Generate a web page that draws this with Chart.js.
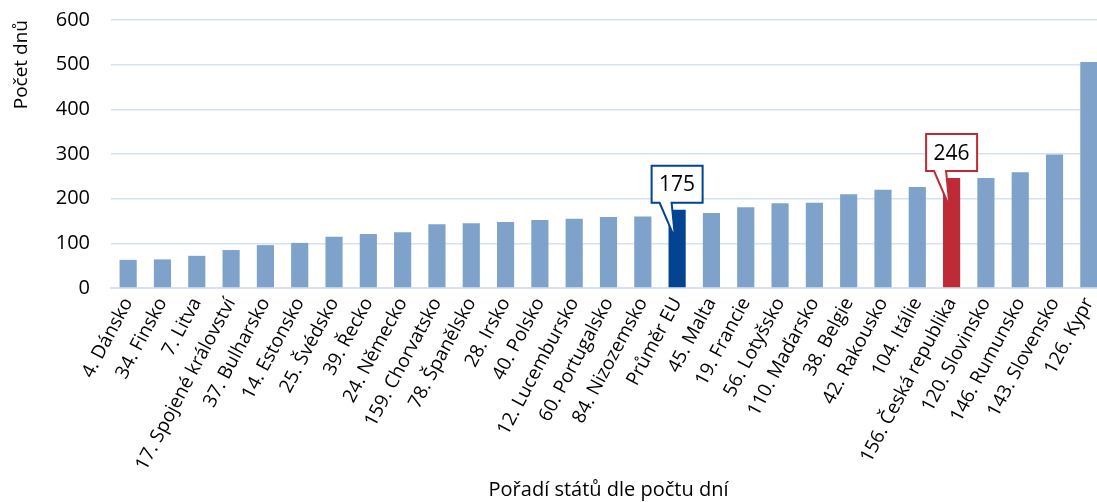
<!DOCTYPE html>
<html>
<head>
<meta charset="utf-8">
<script src="https://cdn.jsdelivr.net/npm/chart.js@4.4.0/dist/chart.umd.min.js"></script>
<style>
  html, body { margin: 0; padding: 0; background: #fff; overflow: hidden; }
  #wrap { width: 1106px; height: 502px; position: relative; }
</style>
</head>
<body>
<div id="wrap"><canvas id="myChart"></canvas></div>
<script>
var categories = ['4. Dánsko', '34. Finsko', '7. Litva', '17. Spojené království', '37. Bulharsko',
    '14. Estonsko', '25. Švédsko', '39. Řecko', '24. Německo', '159. Chorvatsko', '78. Španělsko',
    '28. Irsko', '40. Polsko', '12. Lucembursko', '60. Portugalsko', '84. Nizozemsko', 'Průměr EU',
    '45. Malta', '19. Francie', '56. Lotyšsko', '110. Maďarsko', '38. Belgie', '42. Rakousko',
    '104. Itálie', '156. Česká republika', '120. Slovinsko', '146. Rumunsko', '143. Slovensko', '126. Kypr'];
var days = [63, 64, 72, 85, 96, 101, 115, 121, 125, 143, 145, 148, 152, 155, 159, 160, 175,
    168, 181, 190, 191, 210, 220, 226, 246, 246, 259, 299, 506];
var yTicks = [0, 100, 200, 300, 400, 500, 600];
var highlights = ['Průměr EU', '156. Česká republika'];

var FONT = '"Open Sans", sans-serif';
var barColors = categories.map(function (c) {
    if (c === 'Průměr EU') return '#024392';
    if (c === '156. Česká republika') return '#be2a35';
    return '#7fa2cb';
});

// callouts over the two highlighted bars
var calloutPlugin = {
    id: 'callouts',
    afterDatasetsDraw: function (chart) {
        var ctx = chart.ctx;
        var meta = chart.getDatasetMeta(0);
        var y = chart.scales.y;
        highlights.forEach(function (name) {
            var i = categories.indexOf(name);
            var bar = meta.data[i];
            var cx = bar.x;
            var top = y.getPixelForValue(days[i]);
            var color = barColors[i];
            var w = 51, h = 37;
            var left = cx - w / 2, bottom = top - 7, boxTop = bottom - h;
            var tipX = cx - 2, tipY = top + 29;
            ctx.save();
            ctx.beginPath();
            ctx.moveTo(left, boxTop);
            ctx.lineTo(left + w, boxTop);
            ctx.lineTo(left + w, bottom);
            ctx.lineTo(left + 20, bottom);
            ctx.lineTo(tipX, tipY);
            ctx.lineTo(left + 8, bottom);
            ctx.lineTo(left, bottom);
            ctx.closePath();
            ctx.fillStyle = '#fff';
            ctx.fill();
            ctx.lineWidth = 2;
            ctx.strokeStyle = color;
            ctx.lineJoin = 'miter';
            ctx.stroke();
            ctx.fillStyle = '#000';
            ctx.font = '21px ' + FONT;
            ctx.textAlign = 'center';
            ctx.textBaseline = 'middle';
            ctx.fillText(String(days[i]), cx, boxTop + h / 2 + 1);
            ctx.restore();
        });
    }
};

var ctx = document.getElementById('myChart').getContext('2d');
var myChart = new Chart(ctx, {
    type: 'bar',
    data: {
        labels: categories,
        datasets: [{
            label: 'Počet dnů',
            data: days,
            backgroundColor: barColors,
            barPercentage: 0.5,
            categoryPercentage: 1.0
        }]
    },
    options: {
        responsive: true,
        maintainAspectRatio: false,
        animation: false,
        layout: { padding: { top: 20, left: 10, right: 0, bottom: 0 } },
        plugins: {
            legend: { display: false },
            tooltip: { enabled: false }
        },
        scales: {
            x: {
                afterFit: function (axis) {
                    axis.paddingLeft = 0;
                    axis.paddingRight = 0;
                    axis.height = 214;
                },
                grid: { display: false, drawTicks: false },
                border: { color: '#d6e2f3', width: 2 },
                ticks: {
                    autoSkip: false,
                    minRotation: 62,
                    maxRotation: 62,
                    padding: 6,
                    color: '#000',
                    font: { family: FONT, size: 19 }
                },
                title: {
                    display: true,
                    text: 'Pořadí států dle počtu dní',
                    color: '#000',
                    padding: { top: 12, bottom: 0 },
                    font: { family: FONT, size: 20 }
                }
            },
            y: {
                min: 0,
                max: 600,
                afterBuildTicks: function (axis) {
                    axis.ticks = yTicks.map(function (v) { return { value: v }; });
                },
                afterFit: function (axis) {
                    axis.paddingTop = 0;
                    axis.paddingBottom = 0;
                    axis.width = 101;
                },
                grid: { color: '#d6e2f3', lineWidth: 1.5, drawTicks: false },
                border: { display: false },
                ticks: {
                    padding: 21,
                    color: '#000',
                    font: { family: FONT, size: 20 }
                },
                title: {
                    display: true,
                    text: 'Počet dnů',
                    align: 'end',
                    color: '#000',
                    padding: { top: 0, bottom: 5 },
                    font: { family: FONT, size: 19 }
                }
            }
        }
    },
    plugins: [calloutPlugin]
});
</script>
</body>
</html>
